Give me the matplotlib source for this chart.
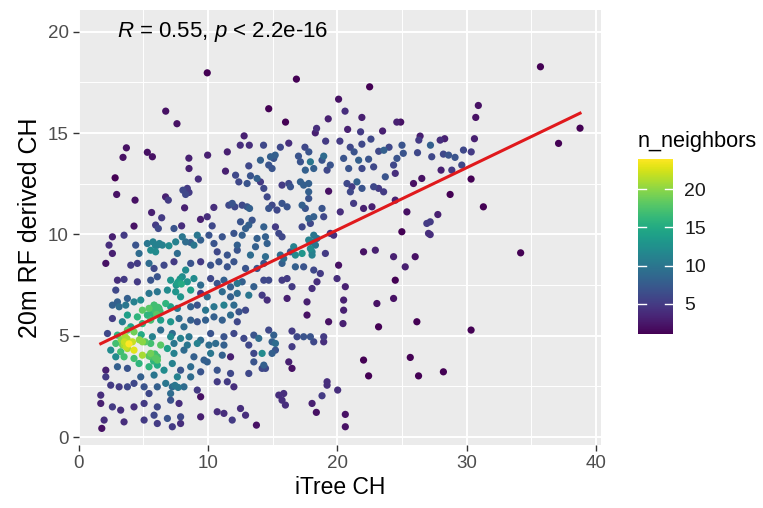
import numpy as np
import matplotlib
matplotlib.use("Agg")
import matplotlib.pyplot as plt
from matplotlib.colors import Normalize

plt.rcParams['font.family'] = ['Liberation Sans', 'DejaVu Sans']
plt.rcParams['mathtext.fontset'] = 'custom'
plt.rcParams['mathtext.it'] = 'Liberation Sans:italic'
plt.rcParams['mathtext.rm'] = 'Liberation Sans'

# (iTree CH, 20m RF derived CH) pairs
points = [
    # upper band
    (9.95,17.97),(6.74,16.08),(7.61,15.46),(12.8,14.86),(12.5,14.4),(13.2,14.4),(3.70,14.27),(3.44,13.8),
    (5.32,14.05),(5.71,13.83),(8.53,13.76),(9.98,13.91),(11.5,14.07),
    (16.84,17.66),(22.5,17.28),(20.1,16.67),(14.7,16.2),(20.6,16.08),(16.0,15.54),(19.3,15.7),(21.9,15.77),
    (24.6,15.54),(24.9,15.54),(18.4,15.23),(18.3,15.01),(20.8,15.18),(21.8,15.06),(23.5,15.1),(26.4,14.85),
    (26.3,14.65),(14.3,14.4),(15.6,14.3),(16.25,14.5),(17.5,14.3),(17.8,14.07),(19.1,14.6),(20.2,14.6),
    (21.0,14.3),(21.3,14.07),(21.9,14.45),(22.6,14.7),(23.2,14.1),(23.6,14.15),(24.0,14.3),(25.0,14.4),
    (25.1,14.0),(26.2,14.03),(18.95,13.86),(14.84,13.83),(15.2,13.91),(17.0,13.86),(27.2,14.4),
    (35.7,18.27),(30.9,16.36),(30.7,15.77),(38.76,15.24),(37.1,14.49),(30.6,14.72),(27.95,14.65),(28.3,14.72),
    (29.75,14.16),(30.35,14.07),(27.3,13.83),(28.2,13.96),(28.6,13.91),(29.1,13.8),
    (28.02,13.17),(28.85,13.17),(29.62,13.42),(30.34,12.73),(28.72,11.97),(31.29,11.36),(27.77,10.98),
    (27.18,10.62),(27.18,9.99),(34.17,9.09),
    # left middle band
    (8.54,13.25),(9.26,12.73),(11.36,13.12),(12.14,12.92),(12.39,12.59),(13.16,13.38),(13.29,12.89),(13.03,12.51),
    (2.83,12.79),(2.95,11.97),(4.37,11.69),(6.73,11.85),(6.94,11.69),(8.07,12.18),(8.41,12.27),(8.28,11.97),
    (8.54,12.07),(8.2,11.31),(10.46,11.33),(11.62,11.44),(12.08,11.36),(11.88,11.53),(12.65,11.44),(13.03,11.36),
    (13.22,11.28),(5.65,11.08),(6.43,10.82),(9.43,10.74),(9.95,10.87),(10.33,10.42),(12.52,10.62),(13.16,10.46),
    (13.42,10.7),(12.91,10.29),(4.29,10.41),(5.96,10.46),(6.17,10.29),(7.38,10.29),(7.97,10.42),
    (12.65,9.96),(13.29,8.98),(12.91,8.32),(12.65,7.66),(13.16,7.0),(13.55,7.42),
    (5.32,9.55),(5.76,9.63),(6.09,9.47),(6.48,9.47),(5.58,9.22),(5.96,9.14),(6.99,9.44),(7.51,9.63),(8.02,9.88),
    (8.28,9.63),(8.66,9.6),(8.92,9.47),
    # right middle band
    (14.06,13.66),(14.7,13.42),(15.09,13.75),(14.96,13.25),(17.15,13.58),(17.53,13.17),(17.92,13.58),(18.18,13.25),
    (18.82,13.66),(19.21,13.17),(19.46,13.42),(20.49,13.75),(20.88,13.25),(21.65,13.66),(21.91,13.25),(22.42,13.71),
    (22.81,13.33),(23.71,12.84),(24.35,13.42),(24.61,13.75),(24.48,13.01),(25.89,12.51),(26.53,12.76),(13.8,12.76),
    (14.06,12.59),(14.32,12.27),(15.73,12.43),(16.25,12.51),(16.38,12.35),(17.15,12.59),(17.4,12.43),(17.79,12.51),
    (17.79,12.1),(17.79,11.77),(19.33,12.13),(20.75,12.51),(21.13,12.35),(21.52,12.59),(21.91,12.27),(21.01,12.1),
    (22.81,12.35),(23.19,12.27),(23.58,12.1),(14.58,11.85),(14.7,11.28),(14.96,11.44),(15.34,11.2),(15.73,11.53),
    (16.12,11.36),(17.28,11.44),(17.53,11.28),(18.18,10.87),(18.82,11.28),(18.95,10.87),(20.23,11.11),(21.26,11.53),
    (22.03,11.28),(22.68,11.36),(24.48,11.69),(25.38,11.11),
    (14.32,10.37),(14.45,9.88),(14.58,9.55),(13.8,9.8),(15.22,10.37),(15.48,10.05),(15.73,9.88),(17.92,10.54),
    (17.28,10.37),(17.79,10.78),(19.46,10.05),(19.72,9.96),(18.18,9.96),(18.43,9.8),(18.05,9.63),(17.79,9.72),
    (18.31,9.47),(17.92,9.3),(18.05,9.14),(24.99,10.13),(26.92,10.54),(27.05,10.05),(13.68,9.39),
    (14.45,8.9),(14.32,8.57),(15.6,8.98),(15.86,8.81),(15.73,8.57),(16.63,9.39),(16.76,8.98),(16.38,9.14),
    (17.28,9.06),(18.05,8.98),(19.08,9.06),(22.03,9.14),(22.94,9.22),(24.35,8.9),(25.25,8.4),(26.02,8.9),
    (20.1,8.48),(16.76,8.4),(17.4,8.4),(18.18,8.24),(18.69,8.07),(13.8,8.32),(14.32,7.74),(14.7,7.74),
    (14.19,7.0),(15.73,7.74),(16.12,7.82),(16.5,7.42),(18.43,7.66),(18.05,7.33),(19.98,7.82),(20.62,7.42),
    (24.48,7.74),(16.12,6.84),(17.66,6.67),(20.49,6.76),(23.06,6.59),(24.35,6.84),(14.58,6.76),
    # lower left block
    (2.62,9.88),(3.52,9.96),(9.18,9.96),(10.08,9.96),(11.11,9.88),(12.01,10.05),(12.27,9.47),
    (2.36,9.47),(2.62,9.06),(4.42,9.47),(4.68,9.06),(7.64,9.06),(9.44,9.72),(10.47,9.55),(10.72,9.14),
    (11.5,8.98),(12.27,9.22),
    (2.11,8.57),(4.04,8.48),(4.55,8.57),(5.45,8.57),(5.84,8.32),(6.61,8.48),(7.38,8.65),(8.28,8.24),(8.67,8.57),
    (9.44,8.65),(10.21,8.48),(10.85,8.65),(11.5,8.4),(12.01,8.65),
    (3.01,7.74),(3.52,7.78),(4.55,7.66),(5.58,7.74),(6.09,7.91),(7.12,7.74),(7.64,7.58),(8.02,7.91),(8.41,7.66),
    (8.92,7.82),(9.44,7.5),(10.21,7.82),(10.72,7.58),(11.24,7.74),(11.75,7.41),(12.27,7.58),
    (2.88,7.25),(3.78,6.84),(3.01,6.67),(4.81,6.76),(5.45,7.09),(6.09,7.17),(6.87,7.25),(7.51,7.17),(7.89,6.92),
    (8.67,7.25),(9.44,7.09),(9.95,6.92),(11.11,7.17),(11.75,6.92),(12.27,7.09),
    (2.62,6.51),(3.14,6.43),(3.65,6.51),(4.29,6.67),(4.94,6.26),(5.45,6.35),(5.84,6.51),(6.22,6.35),(6.74,6.59),
    (7.12,6.43),(7.64,6.35),(8.67,6.43),(9.18,6.51),(9.82,6.26),(10.47,6.43),(11.24,6.51),(12.01,6.51),(12.4,6.18),
    (3.78,6.02),(4.55,5.93),(5.32,6.02),
    (2.62,5.85),(3.39,5.69),(4.04,5.44),(4.94,5.6),(5.58,5.77),(6.35,5.77),(7.12,5.69),(7.77,5.85),(8.15,5.44),
    (8.67,5.77),(9.18,5.69),(9.82,5.77),(10.47,5.93),(11.11,5.77),(11.75,6.02),(12.27,5.69),
    (2.24,5.11),(3.01,5.03),(3.78,5.28),(4.29,5.19),(5.71,4.95),(6.35,5.28),(7.25,5.11),(7.12,4.95),(7.89,4.87),
    (8.54,4.95),(9.44,4.78),(10.21,5.11),(11.24,4.95),(12.01,5.11),
    (2.88,4.62),(3.52,4.54),(4.17,4.7),(4.94,4.7),(5.58,4.62),(6.35,4.54),(7.38,4.62),(8.41,4.54),(9.18,4.62),
    (10.08,4.54),(10.6,4.62),(11.24,4.54),
    (2.49,4.29),(3.26,4.21),(3.78,4.37),(4.29,4.29),(4.94,4.04),(5.58,4.13),(6.09,3.96),(6.87,4.37),(7.38,4.13),
    (8.15,4.29),(8.92,3.96),(9.7,3.8),(10.21,4.13),(11.11,4.04),(11.75,3.96),(2.88,3.96),(3.52,3.96),(4.29,3.88),
    (2.11,3.3),(3.01,3.47),(3.78,3.39),(4.68,3.63),(5.45,3.47),(6.09,3.55),(6.61,3.3),(7.25,3.63),(7.89,3.3),
    (8.67,3.47),(9.44,3.22),(9.95,3.71),(10.72,3.3),(11.75,3.14),(2.11,2.97),(4.81,2.97),(5.84,3.06),(7.64,2.97),
    (8.67,2.97),
    (1.72,2.07),(2.49,2.56),(3.14,2.48),(3.78,2.48),(4.29,2.65),(5.07,2.48),(6.09,2.48),(6.74,2.65),(7.25,2.48),
    (8.15,2.48),(9.18,2.32),(10.72,2.73),(11.5,2.73),(12.01,2.48),(5.45,2.15),(7.12,2.15),(9.44,1.99),
    (1.72,1.66),(2.62,1.49),(3.26,1.33),(4.29,1.49),(5.07,1.66),(6.09,1.49),(7.12,1.82),(7.77,1.66),(5.84,1.08),
    (6.87,0.92),(7.89,1.0),(9.44,1.0),(10.72,1.25),(11.24,1.17),(11.88,0.84),(1.98,0.84),(3.52,0.75),(5.07,0.84),
    (6.09,0.67),(7.25,0.51),(7.89,0.67),(1.8,0.43),
    (12.91,6.26),(12.78,4.87),(13.16,4.54),(13.16,3.14),(13.55,3.71),(12.91,1.08),(12.52,1.41),
    # lower right band
    (17.66,6.02),(19.33,5.69),(20.44,5.6),(20.49,6.26),(23.19,5.44),(26.15,5.69),
    (14.7,5.28),(15.09,5.03),(14.96,4.7),(15.22,4.62),(13.55,5.03),(13.93,4.87),
    (16.5,5.23),(16.89,4.95),(16.5,4.46),(17.4,4.95),(17.92,4.95),(18.18,4.7),(18.95,4.95),(18.95,4.7),
    (13.55,4.13),(14.19,4.13),(14.96,4.13),(15.22,4.29),
    (16.25,3.71),(16.5,3.39),(14.32,3.55),(14.45,3.39),(14.19,3.39),
    (22.03,3.8),(22.42,3.02),(25.64,3.93),(26.28,3.02),
    (19.21,2.73),(19.21,2.56),(20.03,2.32),(18.82,2.04),
    (15.48,2.07),(15.86,2.15),(15.73,1.82),(15.99,1.58),
    (18.05,1.66),(18.38,1.22),(20.62,1.12),(20.62,0.51),(13.75,0.59),
    (30.34,5.28),(28.2,3.22),
]

# points hidden under others in the crowded clusters (estimated)
overlap_points = [
    (3.55,4.70),(3.75,4.85),(3.40,4.55),(3.90,4.60),(3.60,4.95),(3.70,4.45),(3.30,4.80),
    (5.90,6.25),(6.15,6.40),(5.70,6.10),(6.30,6.20),(6.05,6.05),(5.85,6.50),
    (5.65,3.95),(5.90,4.10),(6.10,3.80),(5.45,4.00),(5.80,3.75),(5.95,3.90),
    (4.85,5.05),(5.15,4.70),(4.70,4.80),
    (7.70,7.65),(7.95,7.55),(7.85,7.80),(7.55,7.50),
    (5.95,9.45),(6.25,9.55),
    (7.45,2.55),(7.70,2.45),
]

all_points = points + overlap_points
itree_ch = np.array([p[0] for p in all_points])
rf_ch = np.array([p[1] for p in all_points])

# regression line (lm fit shown in red)
fit_intercept = 4.08
fit_slope = 0.307

x_ticks = [0, 10, 20, 30, 40]
y_ticks = [0, 5, 10, 15, 20]
cbar_ticks = [5, 10, 15, 20]
label_text = r"$R$ = 0.55, $p$ < 2.2e-16"

# n_neighbors: neighbour count inside an ellipse (ggpointdensity default method)
adjust = 1.5
xr = np.ptp(itree_ch) * adjust
yr = np.ptp(rf_ch) * adjust
r2 = (xr + yr) / 70.0
xy = xr / yr
dx = itree_ch[:, None] - itree_ch[None, :]
dy = rf_ch[:, None] - rf_ch[None, :]
n_neighbors = ((dx ** 2) / xy + xy * (dy ** 2) < r2).sum(axis=1)

order = np.argsort(n_neighbors, kind="stable")

fig = plt.figure(figsize=(7.63, 5.08), dpi=100)
ax = fig.add_axes([78.5/763, 1-445/508, (601-78.5)/763, (445-10)/508])
ax.set_facecolor("#EBEBEB")
for s in ax.spines.values():
    s.set_visible(False)
ax.set_xlim(0.06, 40.38)
ax.set_ylim(-0.39, 21.07)
ax.set_xticks(x_ticks)
ax.set_yticks(y_ticks)
ax.set_xticks([5, 15, 25, 35], minor=True)
ax.set_yticks([2.5, 7.5, 12.5, 17.5], minor=True)
ax.grid(True, which="major", color="white", lw=1.4, zorder=0)
ax.grid(True, which="minor", color="white", lw=0.7, zorder=0)
ax.set_axisbelow(True)
ax.tick_params(which="major", length=4, width=1, color="#333333", labelcolor="#4D4D4D", labelsize=13.5, pad=3)
ax.tick_params(which="minor", length=0)

norm = Normalize(vmin=n_neighbors.min(), vmax=n_neighbors.max())
sc = ax.scatter(itree_ch[order], rf_ch[order], c=n_neighbors[order], cmap="viridis", norm=norm,
                s=27, edgecolors="none", zorder=3)

xl = np.array([itree_ch.min(), itree_ch.max()])
ax.plot(xl, fit_intercept + fit_slope * xl, color="#E0191C", lw=2.2, zorder=4)

ax.text(3, 20, label_text, fontsize=16, ha="left", va="center", color="black")
ax.set_xlabel("iTree CH", fontsize=16.5, labelpad=3)
ax.set_ylabel("20m RF derived CH", fontsize=18, labelpad=4)

cax = fig.add_axes([638/763, 1-334/508, 35/763, 175/508])
cb = fig.colorbar(sc, cax=cax, ticks=cbar_ticks)
cb.outline.set_visible(False)
cax.tick_params(length=0, labelsize=14, labelcolor="#1A1A1A", pad=8)
for t in cbar_ticks:
    cax.plot([0, 0.22], [t, t], color="white", lw=1, transform=cax.get_yaxis_transform())
    cax.plot([0.78, 1], [t, t], color="white", lw=1, transform=cax.get_yaxis_transform())
fig.text(638/763, 1-141/508, "n_neighbors", fontsize=15.7, ha="left", va="center")

fig.savefig("out.png", dpi=100)
